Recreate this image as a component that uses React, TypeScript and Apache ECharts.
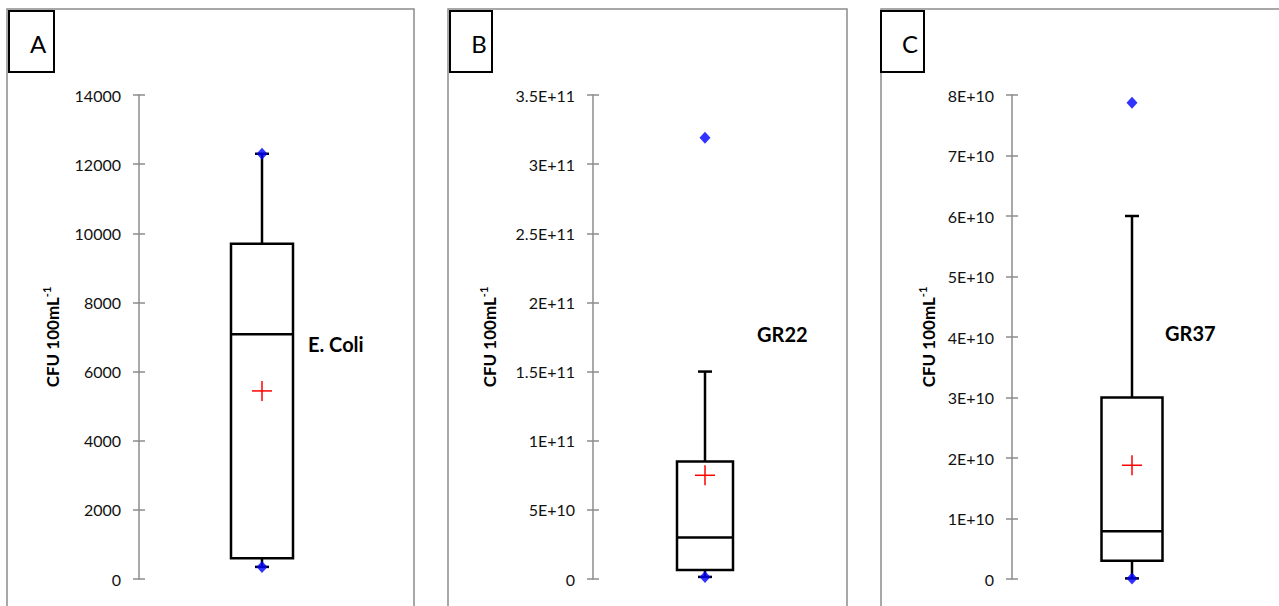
import React, { useEffect, useRef } from "react";
import * as echarts from "echarts";

// ---- data ----
const categories = ["E. Coli", "GR22", "GR37"];
const panelLetters = ["A", "B", "C"];
const lowWhisker = [350, 1.5e9, 1e8];
const q1 = [600, 6.5e9, 3e9];
const median = [7080, 3e10, 7.9e9];
const q3 = [9700, 8.5e10, 3e10];
const highWhisker = [12300, 1.5e11, 6e10];
const means = [5440, 7.5e10, 1.88e10];
const minimums = [350, 1.5e9, 1e8];
const maximums = [12300, 3.19e11, 7.87e10];
const axisMax = [14000, 3.5e11, 8e10];
const axisInterval = [2000, 5e10, 1e10];
const tickLabelsA = ["0", "2000", "4000", "6000", "8000", "10000", "12000", "14000"];
const tickLabelsB = ["0", "5E+10", "1E+11", "1.5E+11", "2E+11", "2.5E+11", "3E+11", "3.5E+11"];
const tickLabelsC = ["0", "1E+10", "2E+10", "3E+10", "4E+10", "5E+10", "6E+10", "7E+10", "8E+10"];
const tickLabels = [tickLabelsA, tickLabelsB, tickLabelsC];
const yAxisName = "CFU 100mL";
const yAxisNameSup = "-1";

// ---- layout ----
const FONT = "Lato, 'Open Sans', sans-serif";
const grids = [
  { left: 139, top: 95, width: 246, height: 484 },
  { left: 593, top: 95, width: 224, height: 484 },
  { left: 1012, top: 95, width: 240, height: 484 },
];
const boxWidths = [62, 56, 61];
const nameGaps = [76, 93, 73];
const panelRects = [
  { x: 7, w: 407 },
  { x: 448, w: 399 },
  { x: 881, w: 420 },
];
const letterBoxes = [
  { x: 9, w: 45, cx: 38 },
  { x: 450, w: 42, cx: 479 },
  { x: 881, w: 43, cx: 910 },
];
const seriesLabelPos = [
  { x: 308, y: 344 },
  { x: 757, y: 334 },
  { x: 1165, y: 333 },
];

export default function App() {
  const ref = useRef<HTMLDivElement>(null);
  useEffect(() => {
    if (!ref.current) return;
    const chart = echarts.init(ref.current, null, { renderer: "svg" });

    const xAxis: any[] = [];
    const yAxis: any[] = [];
    const series: any[] = [];
    const graphic: any[] = [];

    categories.forEach((cat, i) => {
      xAxis.push({
        type: "category",
        gridIndex: i,
        data: [cat],
        show: false,
      });
      const common = {
        type: "value",
        gridIndex: i,
        min: 0,
        max: axisMax[i],
        interval: axisInterval[i],
        position: "left",
        splitLine: { show: false },
      };
      yAxis.push({
        ...common,
        name: `{b|${yAxisName}}{s|${yAxisNameSup}}`,
        nameLocation: "middle",
        nameRotate: 90,
        nameGap: nameGaps[i],
        nameTextStyle: {
          rich: {
            b: { fontFamily: FONT, fontWeight: "bold", fontSize: 17, color: "#000", lineHeight: 22 },
            s: { fontFamily: FONT, fontWeight: "bold", fontSize: 11, color: "#000", verticalAlign: "top", lineHeight: 22 },
          },
        },
        axisLine: { show: true, lineStyle: { color: "#8c8c8c", width: 1.5 } },
        axisTick: { show: true, inside: false, length: 6, lineStyle: { color: "#8c8c8c", width: 1.5 } },
        axisLabel: {
          margin: 18,
          fontFamily: FONT,
          fontSize: 16,
          color: "#111",
          formatter: (_v: number, idx: number) => tickLabels[i][idx],
        },
      });
      yAxis.push({
        ...common,
        axisLine: { show: false },
        axisTick: { show: true, inside: true, length: 6, lineStyle: { color: "#8c8c8c", width: 1.5 } },
        axisLabel: { show: false },
      });

      const bw = boxWidths[i];
      series.push({
        type: "custom",
        xAxisIndex: i,
        yAxisIndex: i * 2,
        data: [[0, lowWhisker[i], q1[i], median[i], q3[i], highWhisker[i], means[i]]],
        z: 2,
        renderItem: (params: any, api: any) => {
          const x = api.coord([0, 0])[0];
          const yLo = api.coord([0, api.value(1)])[1];
          const yQ1 = api.coord([0, api.value(2)])[1];
          const yMed = api.coord([0, api.value(3)])[1];
          const yQ3 = api.coord([0, api.value(4)])[1];
          const yHi = api.coord([0, api.value(5)])[1];
          const yMean = api.coord([0, api.value(6)])[1];
          const stroke = { stroke: "#000", lineWidth: 2.5, fill: null };
          const cap = 7;
          const cross = 10;
          return {
            type: "group",
            children: [
              { type: "line", shape: { x1: x, y1: yQ3, x2: x, y2: yHi }, style: stroke },
              { type: "line", shape: { x1: x - cap, y1: yHi, x2: x + cap, y2: yHi }, style: stroke },
              { type: "line", shape: { x1: x, y1: yQ1, x2: x, y2: yLo }, style: stroke },
              { type: "line", shape: { x1: x - cap, y1: yLo, x2: x + cap, y2: yLo }, style: stroke },
              {
                type: "rect",
                shape: { x: x - bw / 2, y: yQ3, width: bw, height: yQ1 - yQ3 },
                style: { stroke: "#000", lineWidth: 2.5, fill: "#fff" },
              },
              { type: "line", shape: { x1: x - bw / 2, y1: yMed, x2: x + bw / 2, y2: yMed }, style: stroke },
              {
                type: "line",
                shape: { x1: x - cross, y1: yMean, x2: x + cross, y2: yMean },
                style: { stroke: "#ff0000", lineWidth: 1.5 },
              },
              {
                type: "line",
                shape: { x1: x, y1: yMean - cross, x2: x, y2: yMean + cross },
                style: { stroke: "#ff0000", lineWidth: 1.5 },
              },
            ],
          };
        },
      });
      series.push({
        type: "scatter",
        xAxisIndex: i,
        yAxisIndex: i * 2,
        z: 3,
        symbol: "diamond",
        symbolSize: [11, 12],
        itemStyle: { color: "#0000ff" },
        data: [
          [0, minimums[i]],
          [0, maximums[i]],
        ],
      });

      const pr = panelRects[i];
      graphic.push({
        type: "rect",
        shape: { x: pr.x, y: 9, width: pr.w, height: 640 },
        style: { fill: "none", stroke: "#8c8c8c", lineWidth: 1.5 },
        z: 0,
      });
      const lb = letterBoxes[i];
      graphic.push({
        type: "rect",
        shape: { x: lb.x, y: 11, width: lb.w, height: 61 },
        style: { fill: "#fff", stroke: "#000", lineWidth: 2 },
        z: 1,
      });
      graphic.push({
        type: "text",
        x: lb.cx,
        y: 43,
        style: {
          text: panelLetters[i],
          font: `24px ${FONT}`,
          fill: "#000",
          align: "center",
          verticalAlign: "middle",
        },
        z: 2,
      });
      const sl = seriesLabelPos[i];
      graphic.push({
        type: "text",
        x: sl.x,
        y: sl.y,
        style: {
          text: cat,
          font: `bold 20px ${FONT}`,
          fill: "#000",
          align: "left",
          verticalAlign: "middle",
        },
        z: 2,
      });
    });

    chart.setOption({
      animation: false,
      backgroundColor: "#fff",
      grid: grids.map((g) => ({ ...g, containLabel: false })),
      xAxis,
      yAxis,
      series,
      graphic,
    });
    return () => chart.dispose();
  }, []);
  return (
    <div
      ref={ref}
      style={{ position: "fixed", left: 0, top: 0, width: 1279, height: 606 }}
    />
  );
}
